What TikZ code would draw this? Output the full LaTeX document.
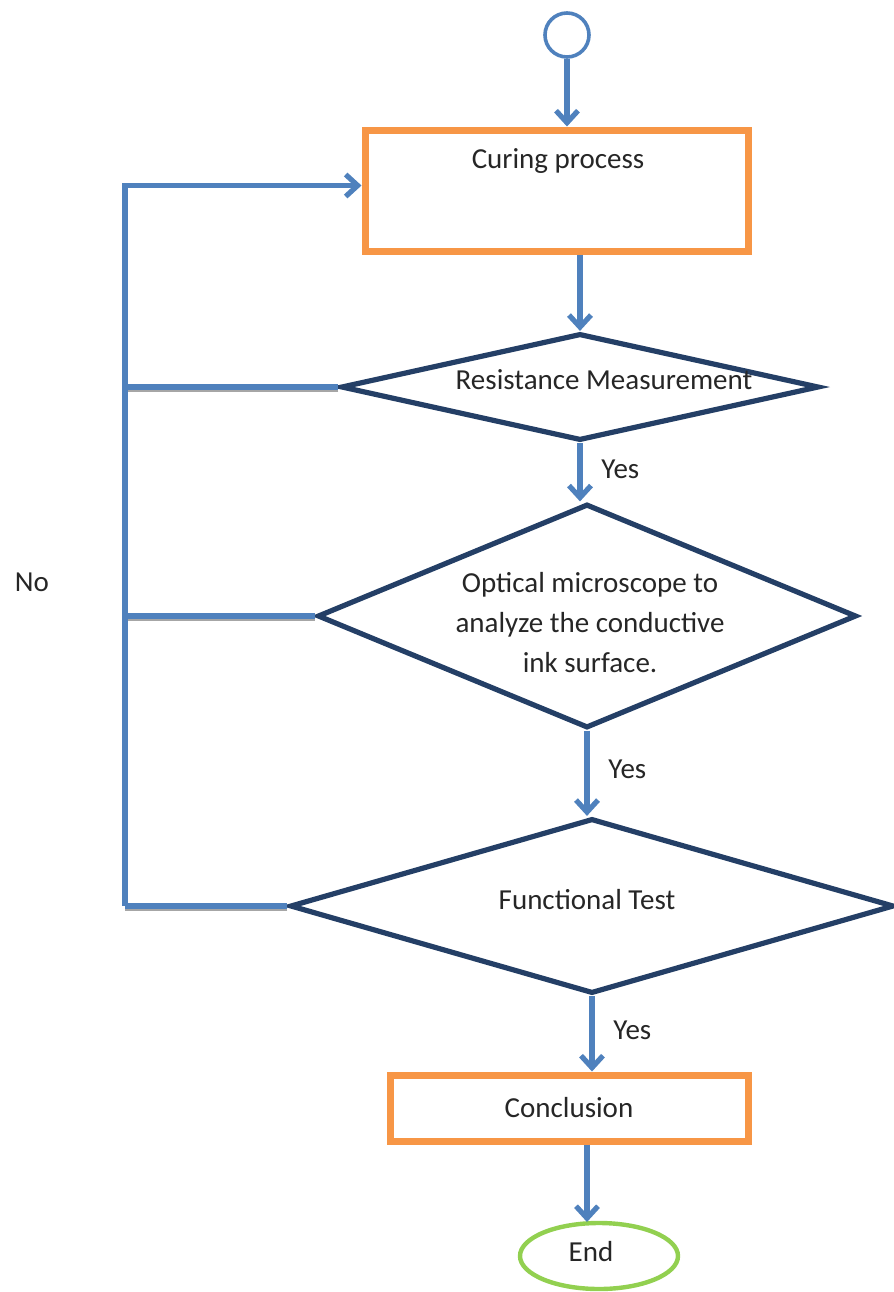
\documentclass[tikz,border=0pt]{standalone}
\usepackage{fontspec}
\setmainfont{Carlito}
\usetikzlibrary{shapes.geometric,arrows.meta}
\definecolor{flowblue}{HTML}{4F81BD}
\definecolor{boxorange}{HTML}{F79646}
\definecolor{dianavy}{HTML}{243F66}
\definecolor{endgreen}{HTML}{92D050}
\begin{document}
\begin{tikzpicture}[x=0.5pt, y=-0.5pt,
    every node/.style={font=\fontsize{14.5}{20}\selectfont, text=black!85},
    flow/.style={draw=flowblue, line width=2.8pt,
        -{Straight Barb[length=6pt, width=11pt, line width=2.6pt]}},
    back/.style={draw=flowblue, line width=2.8pt,
        preaction={draw=black!35, line width=2.4pt, transform canvas={yshift=-1.3pt}}},
    procbox/.style={draw=boxorange, line width=3.5pt, rectangle, inner sep=0pt},
    decide/.style={draw=dianavy, line width=2.6pt, diamond, inner sep=0pt},
    yes/.style={right=6pt, pos=0.45}]
    \useasboundingbox (0,0) rectangle (894,1292);

    % start and end
    \node[draw=flowblue, line width=1.8pt, circle, minimum size=22pt, inner sep=0pt] (start) at (567,35) {};
    \node[draw=endgreen, line width=2.2pt, ellipse, minimum width=79pt, minimum height=33pt, inner sep=0pt] (stop) at (599,1256) {};
    \node at (591,1252) {End};

    % process boxes
    \node[procbox, minimum width=191.5pt, minimum height=60.5pt] (curing) at (556.5,190.5) {};
    \node at (558,161) {Curing process};
    \node[procbox, minimum width=179pt, minimum height=33pt] (concl) at (569,1108) {Conclusion};

    % decisions
    \node[decide, minimum width=239pt, minimum height=53.5pt] (resist) at (580,387) {};
    \node at (604,380) {Resistance Measurement};
    \node[decide, minimum width=269.5pt, minimum height=112pt] (optic) at (587,616) {};
    \node[align=center] at (590,623) {Optical microscope to\\analyze the conductive\\ink surface.};
    \node[decide, minimum width=302pt, minimum height=87.5pt] (func) at (592,906) {};
    \node at (587,900) {Functional Test};

    % main flow
    \draw[flow] (start.south) -- (start.south |- curing.north);
    \draw[flow] (curing.south -| resist.north) -- (resist.north);
    \draw[flow] (resist.south) -- (resist.south |- optic.north) node[yes] {Yes};
    \draw[flow] (optic.south) -- (optic.south |- func.north) node[yes] {Yes};
    \draw[flow] (func.south) -- (func.south |- concl.north) node[yes] {Yes};
    \draw[flow] (concl.south -| 587,0) -- (587,1222);

    % failed checks go back to curing
    \coordinate (loop) at (125,0);
    \draw[back] (resist.west) -- (resist.west -| loop);
    \draw[back] (optic.west) -- (optic.west -| loop);
    \draw[back] (func.west) -- (func.west -| loop);
    \draw[flow] (func.west -| loop) |- ([yshift=2.5pt]curing.west);
    \node at (32,582) {No};
\end{tikzpicture}
\end{document}
